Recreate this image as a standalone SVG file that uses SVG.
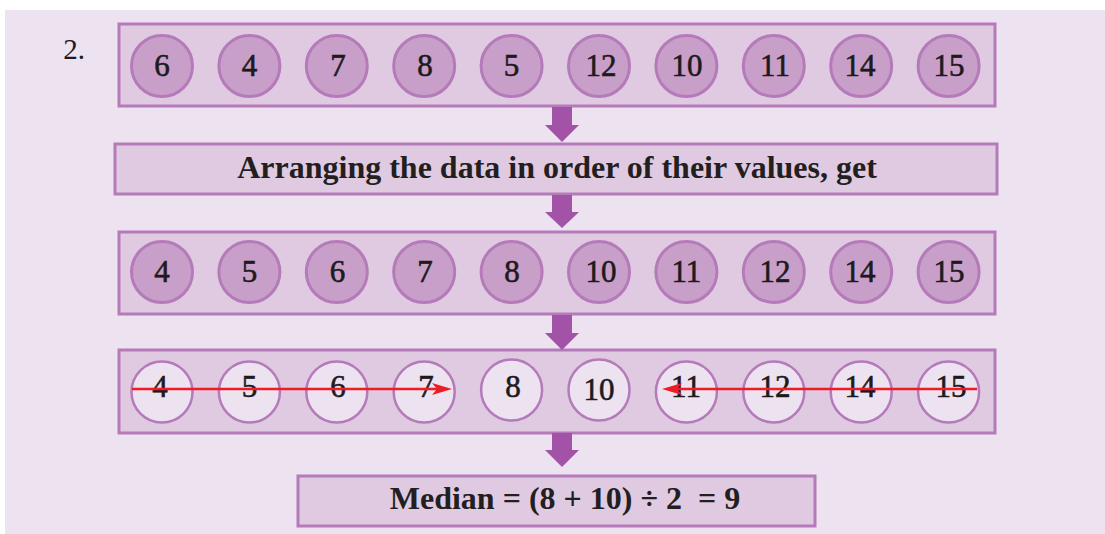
<svg xmlns="http://www.w3.org/2000/svg" width="1105" height="534" viewBox="0 0 1105 534">
<defs>
<style>
.bg{fill:#ffffff}
.panel{fill:#ede2f0}
.box{fill:#dfcae2;stroke:#b57ab9;stroke-width:3}
.cd{fill:#c89fc9;stroke:#b57ab9;stroke-width:3}
.cl{fill:#ede2f0;stroke:#b57ab9;stroke-width:2.5}
.num{font-family:"Liberation Serif",serif;font-size:31px;fill:#1e1a1c;stroke:#1e1a1c;stroke-width:0.6;text-anchor:middle}
.title{font-family:"Liberation Serif",serif;font-size:32px;font-weight:bold;fill:#231f20;text-anchor:middle}
.down{fill:#a353a7}
.red{stroke:#ee1c25;stroke-width:2.5;fill:none}
.rhead{fill:#ee1c25}
</style>
</defs>
<rect class="bg" x="0" y="0" width="1105" height="534"/>
<rect class="panel" x="5" y="10" width="1100" height="524"/>
<text x="74" y="59" style="font-family:'Liberation Serif',serif;font-size:29px;fill:#1e1a1c;text-anchor:middle">2.</text>

<g id="row1">
<rect class="box" x="119" y="24" width="876" height="82"/>
<g class="num">
<circle class="cd" cx="162" cy="66" r="30.5"/><text x="162" y="76">6</text>
<circle class="cd" cx="249.4" cy="66" r="30.5"/><text x="249.4" y="76">4</text>
<circle class="cd" cx="336.8" cy="66" r="30.5"/><text x="338" y="76">7</text>
<circle class="cd" cx="424.2" cy="66" r="30.5"/><text x="425" y="76">8</text>
<circle class="cd" cx="511.6" cy="66" r="30.5"/><text x="511.6" y="76">5</text>
<circle class="cd" cx="599" cy="66" r="30.5"/><text x="601" y="76">12</text>
<circle class="cd" cx="686.4" cy="66" r="30.5"/><text x="687" y="76">10</text>
<circle class="cd" cx="773.8" cy="66" r="30.5"/><text x="775" y="76">11</text>
<circle class="cd" cx="861.2" cy="66" r="30.5"/><text x="860" y="76">14</text>
<circle class="cd" cx="948.6" cy="66" r="30.5"/><text x="949" y="76">15</text>
</g>
</g>

<g id="step">
<rect class="box" x="115" y="144" width="882" height="50"/>
<text class="title" x="557" y="178">Arranging the data in order of their values, get</text>
</g>

<g id="row3">
<rect class="box" x="119" y="232" width="876" height="82"/>
<g class="num">
<circle class="cd" cx="162" cy="272" r="30.5"/><text x="162" y="282">4</text>
<circle class="cd" cx="249.4" cy="272" r="30.5"/><text x="249.4" y="282">5</text>
<circle class="cd" cx="336.8" cy="272" r="30.5"/><text x="337.5" y="282">6</text>
<circle class="cd" cx="424.2" cy="272" r="30.5"/><text x="425" y="282">7</text>
<circle class="cd" cx="511.6" cy="272" r="30.5"/><text x="512" y="282">8</text>
<circle class="cd" cx="599" cy="272" r="30.5"/><text x="601" y="282">10</text>
<circle class="cd" cx="686.4" cy="272" r="30.5"/><text x="686.4" y="282">11</text>
<circle class="cd" cx="773.8" cy="272" r="30.5"/><text x="775" y="282">12</text>
<circle class="cd" cx="861.2" cy="272" r="30.5"/><text x="860" y="282">14</text>
<circle class="cd" cx="948.6" cy="272" r="30.5"/><text x="949" y="282">15</text>
</g>
</g>

<g id="row4">
<rect class="box" x="119" y="350" width="876" height="83"/>
<g class="num">
<circle class="cl" cx="162" cy="392" r="30.5"/><text x="160" y="397">4</text>
<circle class="cl" cx="249.4" cy="392" r="30.5"/><text x="249.4" y="397">5</text>
<circle class="cl" cx="336.8" cy="392" r="30.5"/><text x="338" y="397">6</text>
<circle class="cl" cx="424.2" cy="392" r="30.5"/><text x="426" y="397">7</text>
<circle class="cl" cx="511.6" cy="390" r="30.5"/><text x="513" y="397">8</text>
<circle class="cl" cx="599" cy="390" r="30.5"/><text x="599" y="400">10</text>
<circle class="cl" cx="686.4" cy="392" r="30.5"/><text x="686" y="397">11</text>
<circle class="cl" cx="773.8" cy="392" r="30.5"/><text x="775" y="397">12</text>
<circle class="cl" cx="861.2" cy="392" r="30.5"/><text x="860" y="397">14</text>
<circle class="cl" cx="948.6" cy="392" r="30.5"/><text x="951" y="397">15</text>
</g>
</g>

<g id="result">
<rect class="box" x="298" y="476" width="517" height="50"/>
<text class="title" x="565" y="509" xml:space="preserve">Median = (8 + 10) ÷ 2  = 9</text>
</g>

<g id="connectors">
<path class="down" d="M552,107 H572 V125 H579 L562,142 L545,125 H552 Z"/>
<path class="down" d="M552,195 H572 V212 H579 L562,228 L545,212 H552 Z"/>
<path class="down" d="M552,315 H572 V333 H579 L562,350 L545,333 H552 Z"/>
<path class="down" d="M552,433 H572 V450 H579 L562,467 L545,450 H552 Z"/>
<line class="red" x1="132" y1="389" x2="440" y2="389"/>
<path class="rhead" d="M452,389 L432,383 L437,389 L432,395 Z"/>
<line class="red" x1="977" y1="389" x2="674" y2="389"/>
<path class="rhead" d="M662,389 L682,383 L677,389 L682,395 Z"/>
</g>
</svg>
